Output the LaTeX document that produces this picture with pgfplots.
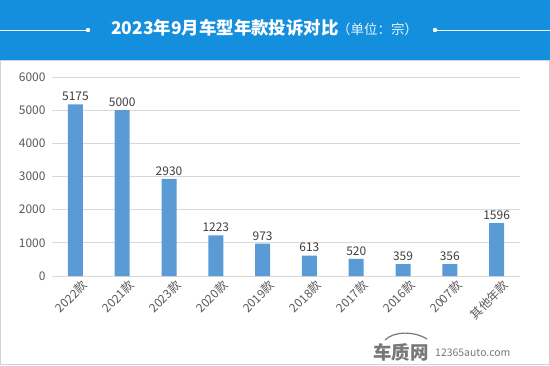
\documentclass[border=0pt]{standalone}
\usepackage{fontspec}
\setmainfont{Noto Sans CJK SC}
\usepackage{pgfplots}
\pgfplotsset{compat=1.18}
\definecolor{banner}{RGB}{20,143,221}
\definecolor{barblue}{RGB}{91,155,213}
\definecolor{ticktext}{RGB}{89,89,89}
\definecolor{labeltext}{RGB}{64,64,64}
\definecolor{gridc}{RGB}{217,217,217}
\definecolor{wm}{RGB}{120,120,120}
\begin{document}
\begin{tikzpicture}[x=1bp,y=1bp]
\fill[white] (0,0) rectangle (550,365);
\draw[gray!35, line width=0.8bp] (0.5,0.5) rectangle (549.5,305);
\fill[banner] (0,305) rectangle (550,365);
\draw[white, line width=0.8bp] (0,335) -- (88,335);
\fill[white] (88,335) circle (2.2);
\draw[white, line width=0.8bp] (435,335) -- (550,335);
\fill[white] (435,335) circle (2.2);
\node[white, font=\fontsize{17.5}{20}\selectfont\bfseries, anchor=west, inner sep=0pt] at (111,337) {2023年9月车型年款投诉对比};
\node[white!90!banner, font=\fontsize{13.5}{15}\selectfont, anchor=west, inner sep=0pt] at (337,336) {（单位：宗）};
\begin{axis}[
  at={(52bp,89bp)}, anchor=south west,
  scale only axis, width=468bp, height=199bp,
  ybar, bar width=15bp,
  xmin=-0.5, xmax=9.5, ymin=0, ymax=6000,
  enlargelimits=false,
  axis line style={draw=none},
  tick style={draw=none},
  ymajorgrids, grid style={gridc, line width=0.8bp},
  ytick={0,1000,2000,3000,4000,5000,6000},
  xtick={0,1,2,3,4,5,6,7,8,9},
  xticklabels={2022款,2021款,2023款,2020款,2019款,2018款,2017款,2016款,2007款,其他年款},
  /pgf/number format/assume math mode=true,
  yticklabel style={font=\fontsize{12}{14}\selectfont, color=ticktext, xshift=-3bp},
  x tick label style={rotate=45, anchor=north east, inner sep=1pt, font=\fontsize{12}{14}\selectfont, color=ticktext, xshift=6bp, yshift=-2bp},
  scaled y ticks=false,
  yticklabel={\pgfmathprintnumber[fixed,precision=0,1000 sep={}]{\tick}},
  nodes near coords,
  nodes near coords style={font=\fontsize{12}{14}\selectfont, color=labeltext, /pgf/number format/fixed, /pgf/number format/1000 sep={}},
]
\addplot[fill=barblue, draw=none] coordinates {(0,5175) (1,5000) (2,2930) (3,1223) (4,973) (5,613) (6,520) (7,359) (8,356) (9,1596)};
\end{axis}
\draw[wm, line width=1.2bp] (385,25) .. controls (394,34) and (414,34) .. (427,26);
\node[wm, font=\fontsize{18.5}{20}\selectfont\bfseries, anchor=west, inner sep=0pt] at (373,13) {车质网};
\node[wm, font=\fontsize{10.5}{12}\selectfont, anchor=west, inner sep=0pt] at (435,12) {12365auto.com};
\pgfresetboundingbox
\useasboundingbox (0,0) rectangle (550,365);
\end{tikzpicture}
\end{document}
